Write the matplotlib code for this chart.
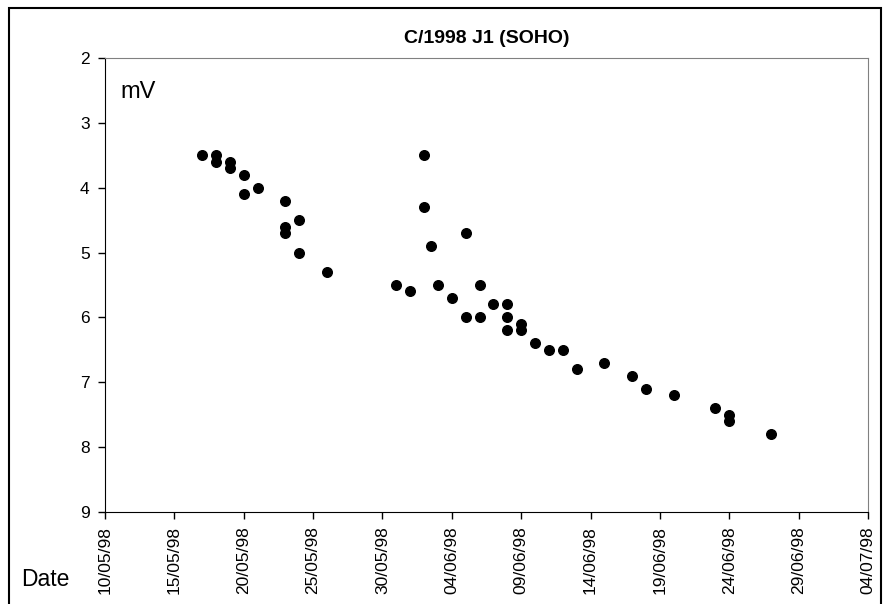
import matplotlib
matplotlib.use("Agg")
import matplotlib.pyplot as plt
import matplotlib.dates as mdates
import pandas as pd
from matplotlib.patches import Rectangle

plt.rcParams['font.family'] = ['Liberation Sans', 'DejaVu Sans']

# observations (date, visual magnitude)
dates = ["1998-05-17 00:00", "1998-05-18 00:00", "1998-05-18 00:00", "1998-05-19 00:00", "1998-05-19 00:00",
         "1998-05-20 00:00", "1998-05-20 00:00", "1998-05-21 00:00", "1998-05-23 00:00", "1998-05-23 00:00",
         "1998-05-23 00:00", "1998-05-24 00:00", "1998-05-24 00:00", "1998-05-26 00:00", "1998-05-31 00:00",
         "1998-06-01 00:00", "1998-06-02 00:00", "1998-06-02 00:00", "1998-06-02 12:00", "1998-06-03 00:00",
         "1998-06-04 00:00", "1998-06-05 00:00", "1998-06-05 00:00", "1998-06-06 00:00", "1998-06-06 00:00",
         "1998-06-07 00:00", "1998-06-08 00:00", "1998-06-08 00:00", "1998-06-08 00:00", "1998-06-09 00:00",
         "1998-06-09 00:00", "1998-06-10 00:00", "1998-06-11 00:00", "1998-06-12 00:00", "1998-06-13 00:00",
         "1998-06-15 00:00", "1998-06-17 00:00", "1998-06-18 00:00", "1998-06-20 00:00", "1998-06-23 00:00",
         "1998-06-24 00:00", "1998-06-24 00:00", "1998-06-27 00:00"]
mags = [3.5, 3.5, 3.6, 3.6, 3.7,
        3.8, 4.1, 4.0, 4.2, 4.6,
        4.7, 4.5, 5.0, 5.3, 5.5,
        5.6, 3.5, 4.3, 4.9, 5.5,
        5.7, 4.7, 6.0, 5.5, 6.0,
        5.8, 5.8, 6.0, 6.2, 6.1,
        6.2, 6.4, 6.5, 6.5, 6.8,
        6.7, 6.9, 7.1, 7.2, 7.4,
        7.5, 7.6, 7.8]
y_ticks = [2, 3, 4, 5, 6, 7, 8, 9]
x_start = "1998-05-10"
x_end = "1998-07-04"

x = pd.to_datetime(dates, format="%Y-%m-%d %H:%M")

fig = plt.figure(figsize=(8.89, 6.04), dpi=100)
ax = fig.add_axes([105 / 889, 1 - 512 / 604, (868 - 105) / 889, (512 - 58) / 604])

ax.scatter(x, mags, s=48, color='black', zorder=3)

ax.set_xlim(pd.Timestamp(x_start), pd.Timestamp(x_end))
ax.set_ylim(9, 2)
ax.set_yticks(y_ticks)
ticks = pd.date_range(x_start, x_end, freq="5D")
ax.set_xticks(ticks)
ax.xaxis.set_major_formatter(mdates.DateFormatter("%d/%m/%y"))
plt.setp(ax.get_xticklabels(), rotation=90, fontsize=12.5)
plt.setp(ax.get_yticklabels(), fontsize=12.5)
ax.tick_params(axis='both', direction='out', length=5, width=1, color='black')
ax.tick_params(axis='y', pad=6)
ax.tick_params(axis='x', pad=5)

ax.spines['top'].set_color('#808080')
ax.spines['right'].set_color('#808080')
ax.spines['left'].set_color('black')
ax.spines['bottom'].set_color('black')

ax.set_title("C/1998 J1 (SOHO)", fontsize=14, fontweight='bold', pad=11)
ax.text(120 / 889, 1 - 92 / 604, "mV", transform=fig.transFigure, fontsize=17, va='center', ha='left')
fig.text(21 / 889, 1 - 580 / 604, "Date", fontsize=16.5, va='center', ha='left')

# chart border
fig.patches.append(Rectangle((9 / 889, -0.01), (881 - 9) / 889, 1 - 8 / 604 + 0.01,
                             transform=fig.transFigure, fill=False,
                             edgecolor='black', linewidth=1.5))

fig.savefig("out.png", dpi=100)
